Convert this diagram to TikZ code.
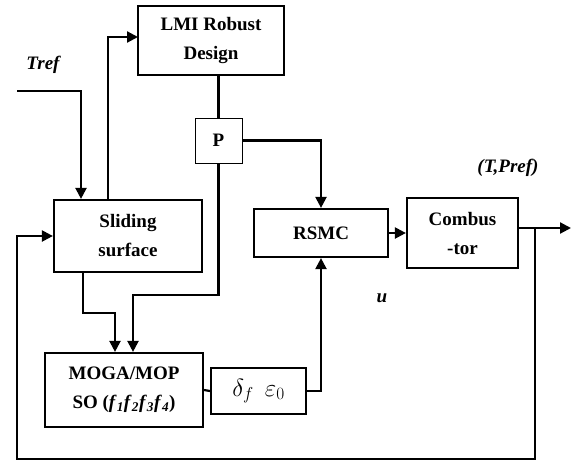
\documentclass[tikz,border=0pt]{standalone}
\usepackage{fontspec}
\setmainfont{Liberation Serif}
\usetikzlibrary{arrows.meta,calc}
\tikzset{
  blk/.style={draw, line width=2.2pt, align=center, inner sep=0pt,
    font=\fontsize{19}{29}\selectfont\bfseries},
  conn/.style={line width=2.2pt},
  arr/.style={conn, -{Triangle[length=11pt,width=11pt]}},
  lbl/.style={font=\fontsize{19}{22}\selectfont\bfseries\itshape},
}
\begin{document}
\begin{tikzpicture}[x=1pt,y=-1pt]
\useasboundingbox (0,0) rectangle (575,461);
\node[blk, minimum width=146pt, minimum height=69pt] (lmi) at (211,40.5) {LMI Robust\\Design};
\node[blk, minimum width=47pt, minimum height=45pt, line width=1pt] (p) at (218.5,140.5) {P};
\node[blk, minimum width=148pt, minimum height=72pt] (slide) at (128,236) {Sliding\\surface};
\node[blk, minimum width=134pt, minimum height=48pt] (rsmc) at (321,233) {RSMC};
\node[blk, minimum width=111pt, minimum height=70pt] (comb) at (462.5,233) {Combus\\-tor};
\node[blk, minimum width=158pt, minimum height=74pt] (moga) at (124,390) {MOGA/MOP\\SO (\textit{f}\textsubscript{\textit{1}}\textit{f}\textsubscript{\textit{2}}\textit{f}\textsubscript{\textit{3}}\textit{f}\textsubscript{\textit{4}})};
\node[blk, minimum width=95pt, minimum height=46pt, font=\fontsize{24}{26}\selectfont] (delta) at (258.5,391) {$\delta_{f}\;\,\varepsilon_{0}$};
\node[lbl] (tref) at (43,65) {Tref};
\node[lbl] (tpref) at (508,168) {(T,Pref)};
\node[lbl] (u) at (382,298) {u};
\coordinate (tin) at (17,91);
\coordinate (lmiin) at (138,37);
\coordinate (cout) at (518,228);
\coordinate (out) at (571,228);
\coordinate (br) at (535,228);
% connectors
\draw[arr] (tin) -| (slide.north -| 81,0);
\draw[arr] (slide.north -| 108,0) |- (lmiin);
\draw[conn] (lmi.south -| p.north) -- (p.north);
\draw[arr] (p.east) -| (rsmc.north);
\draw[arr] (p.south) -- (218.5,295) -| (moga.north -| 133,0);
\draw[arr] (slide.south -| 83,0) -- (83,313) -| (moga.north -| 115,0);
\draw[conn] (moga.east) -- (delta.west);
\draw[arr] (delta.east) -| (rsmc.south);
\draw[arr] (rsmc.east) -- (comb.west);
\draw[arr] (cout) -- (out);
\draw[arr] (br) -- (535,459) -- (17,459) |- (slide.west);
\end{tikzpicture}
\end{document}
